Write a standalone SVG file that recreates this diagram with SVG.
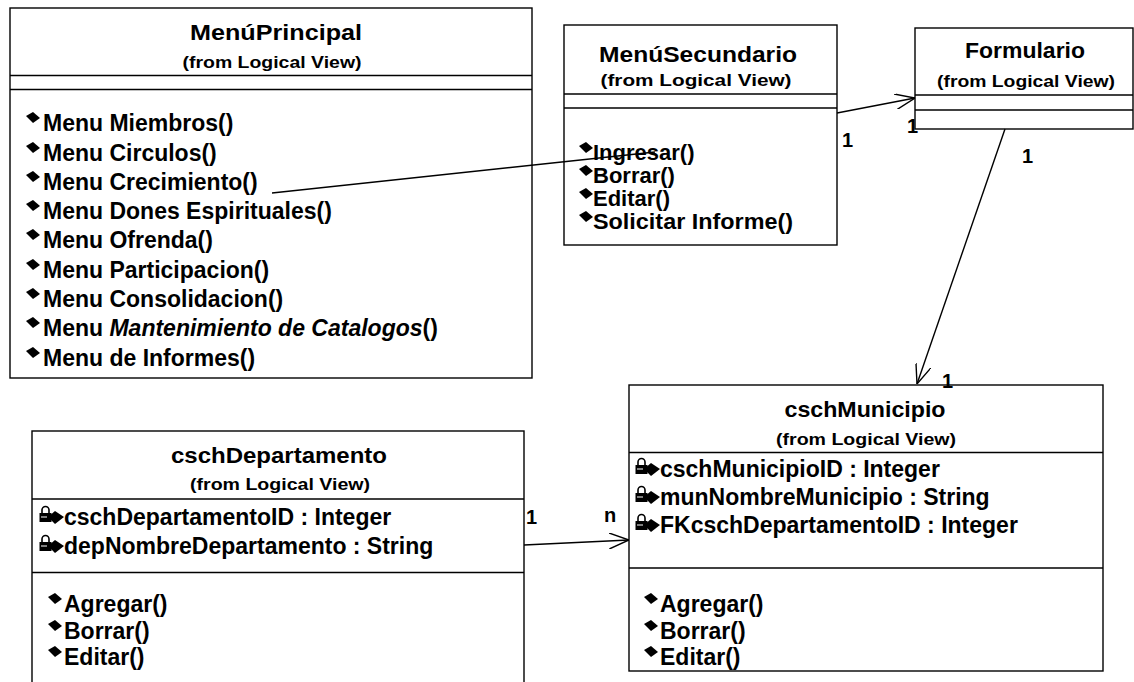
<svg xmlns="http://www.w3.org/2000/svg" width="1134" height="682" viewBox="0 0 1134 682">
<style>
.box{fill:#fff;stroke:#000;stroke-width:1.4}
.sep{stroke:#000;stroke-width:1.3}
.t{font-family:"Liberation Sans",Arial,sans-serif;font-weight:bold;fill:#000}
.title{font-size:22px;text-anchor:middle}
.from{font-size:17px;text-anchor:middle}
.item{font-size:23px}
.item2{font-size:22px}
.lbl{font-size:20px}
.conn{stroke:#000;stroke-width:1.4;fill:none}
</style>
<defs>
<marker id="open" markerUnits="userSpaceOnUse" viewBox="0 0 20 16" refX="20" refY="8" markerWidth="20" markerHeight="16" orient="auto">
<path d="M0,0 L20,8 L0,16" fill="none" stroke="#000" stroke-width="1.4"/>
</marker>
<g id="op"><polygon points="-7,-2 0,-6 7,0 0,5" fill="#000"/></g>
<g id="attr">
<path d="M3,7 V4 a3.5,3.5 0 0 1 7,0 V7" stroke="#000" stroke-width="1.6" fill="none"/>
<rect x="0.5" y="7" width="12" height="9" fill="#000"/>
<line x1="2" y1="11" x2="8" y2="11" stroke="#fff" stroke-width="1"/>
<polygon points="9,11 16,5 25,11 16,18" fill="#000"/>
</g>
</defs>
<rect width="1134" height="682" fill="#fff"/>

<g id="MenuPrincipal">
<rect class="box" x="10" y="8" width="522" height="370"/>
<line class="sep" x1="10" y1="75.5" x2="532" y2="75.5"/>
<line class="sep" x1="10" y1="89.5" x2="532" y2="89.5"/>
<text class="t title" x="276" y="40" textLength="172" lengthAdjust="spacingAndGlyphs">MenúPrincipal</text>
<text class="t from" x="272" y="68" textLength="179" lengthAdjust="spacingAndGlyphs">(from Logical View)</text>
<use href="#op" x="33" y="118"/><text class="t item" x="43" y="131">Menu Miembros()</text>
<use href="#op" x="33" y="148"/><text class="t item" x="43" y="161">Menu Circulos()</text>
<use href="#op" x="33" y="177"/><text class="t item" x="43" y="190">Menu Crecimiento()</text>
<use href="#op" x="33" y="206"/><text class="t item" x="43" y="219">Menu Dones Espirituales()</text>
<use href="#op" x="33" y="235"/><text class="t item" x="43" y="248">Menu Ofrenda()</text>
<use href="#op" x="33" y="265"/><text class="t item" x="43" y="278">Menu Participacion()</text>
<use href="#op" x="33" y="294"/><text class="t item" x="43" y="307">Menu Consolidacion()</text>
<use href="#op" x="33" y="323"/><text class="t item" x="43" y="336">Menu <tspan font-style="italic">Mantenimiento de Catalogos</tspan>()</text>
<use href="#op" x="33" y="353"/><text class="t item" x="43" y="366">Menu de Informes()</text>
</g>

<g id="MenuSecundario">
<rect class="box" x="564" y="25" width="273" height="220"/>
<line class="sep" x1="564" y1="94" x2="837" y2="94"/>
<line class="sep" x1="564" y1="108" x2="837" y2="108"/>
<text class="t title" x="698" y="62" textLength="198" lengthAdjust="spacingAndGlyphs">MenúSecundario</text>
<text class="t from" x="696" y="86" textLength="191" lengthAdjust="spacingAndGlyphs">(from Logical View)</text>
<use href="#op" x="586" y="148"/><text class="t item2" x="593" y="160">Ingresar()</text>
<use href="#op" x="586" y="171"/><text class="t item2" x="593" y="183">Borrar()</text>
<use href="#op" x="586" y="194"/><text class="t item2" x="593" y="206">Editar()</text>
<use href="#op" x="586" y="217"/><text class="t item2" x="593" y="229" textLength="200" lengthAdjust="spacingAndGlyphs">Solicitar Informe()</text>
</g>

<g id="Formulario">
<rect class="box" x="915" y="28" width="218" height="101"/>
<line class="sep" x1="915" y1="95" x2="1133" y2="95"/>
<line class="sep" x1="915" y1="110" x2="1133" y2="110"/>
<text class="t title" x="1025" y="58" textLength="120" lengthAdjust="spacingAndGlyphs">Formulario</text>
<text class="t from" x="1026" y="87" textLength="178" lengthAdjust="spacingAndGlyphs">(from Logical View)</text>
</g>

<g id="cschDepartamento">
<rect class="box" x="32" y="431" width="492" height="262"/>
<line class="sep" x1="32" y1="499" x2="524" y2="499"/>
<line class="sep" x1="32" y1="572.5" x2="524" y2="572.5"/>
<text class="t title" x="279" y="463" textLength="216" lengthAdjust="spacingAndGlyphs">cschDepartamento</text>
<text class="t from" x="280" y="490" textLength="180" lengthAdjust="spacingAndGlyphs">(from Logical View)</text>
<use href="#attr" x="39" y="506"/><text class="t item" x="64" y="525">cschDepartamentoID : Integer</text>
<use href="#attr" x="39" y="535"/><text class="t item" x="64" y="554">depNombreDepartamento : String</text>
<use href="#op" x="55" y="599"/><text class="t item" x="64" y="612">Agregar()</text>
<use href="#op" x="55" y="626"/><text class="t item" x="64" y="639">Borrar()</text>
<use href="#op" x="55" y="652"/><text class="t item" x="64" y="665">Editar()</text>
</g>

<g id="cschMunicipio">
<rect class="box" x="629" y="385" width="474" height="286"/>
<line class="sep" x1="629" y1="452.5" x2="1103" y2="452.5"/>
<line class="sep" x1="629" y1="568" x2="1103" y2="568"/>
<text class="t title" x="865" y="417" textLength="161" lengthAdjust="spacingAndGlyphs">cschMunicipio</text>
<text class="t from" x="866" y="445" textLength="180" lengthAdjust="spacingAndGlyphs">(from Logical View)</text>
<use href="#attr" x="635" y="458"/><text class="t item" x="660" y="477">cschMunicipioID : Integer</text>
<use href="#attr" x="635" y="486"/><text class="t item" x="660" y="505">munNombreMunicipio : String</text>
<use href="#attr" x="635" y="514"/><text class="t item" x="660" y="533">FKcschDepartamentoID : Integer</text>
<use href="#op" x="651" y="599"/><text class="t item" x="660" y="612">Agregar()</text>
<use href="#op" x="651" y="626"/><text class="t item" x="660" y="639">Borrar()</text>
<use href="#op" x="651" y="652"/><text class="t item" x="660" y="665">Editar()</text>
</g>

<g id="connectors">
<line class="conn" x1="272" y1="193" x2="655" y2="152"/>
<line class="conn" x1="837" y1="113" x2="915" y2="98" marker-end="url(#open)"/>
<line class="conn" x1="1005" y1="129" x2="917" y2="384" marker-end="url(#open)"/>
<line class="conn" x1="524" y1="545" x2="629" y2="540" marker-end="url(#open)"/>
<text class="t lbl" x="842" y="147">1</text>
<text class="t lbl" x="907" y="133">1</text>
<text class="t lbl" x="1022" y="163">1</text>
<text class="t lbl" x="942" y="388">1</text>
<text class="t lbl" x="526" y="524">1</text>
<text class="t lbl" x="604" y="522">n</text>
</g>
</svg>
